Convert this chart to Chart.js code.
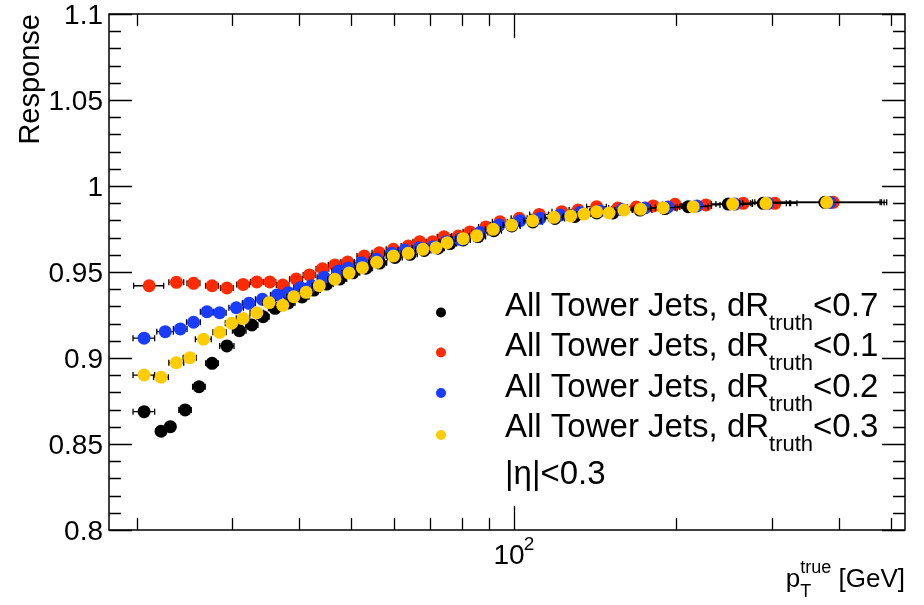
<!DOCTYPE html>
<html>
<head>
<meta charset="utf-8">
<title>Response vs pT</title>
<script src="https://cdn.jsdelivr.net/npm/chart.js@4.4.1/dist/chart.umd.min.js"></script>
<style>
  html, body { margin: 0; padding: 0; background: #fff; }
  #wrap { width: 924px; height: 605px; }
</style>
</head>
<body>
<div id="wrap"><canvas id="resp" width="924" height="605"></canvas></div>
<script>
// pT (GeV), response and half bin width, one set per dR cut
const ptDR07   = [20.65, 22.2, 23.1, 24.6, 26.1, 27.6, 29.4, 31.0, 32.7, 34.3, 36.1, 38.2, 40.5, 42.6, 45.0, 47.6, 50.3, 53.2, 56.4, 60.2, 64.2, 68.2, 72.3, 76.1, 80.5, 85.8, 91.8, 99.1, 108.4, 119.1, 129.7, 142.4, 152.5, 171.1, 190.4, 210.3, 249.4, 289.5, 376.6];
const respDR07 = [0.8688, 0.8574, 0.8601, 0.8698, 0.8833, 0.8969, 0.9070, 0.9159, 0.9192, 0.9240, 0.9289, 0.9320, 0.9355, 0.9395, 0.9430, 0.9460, 0.9495, 0.9522, 0.9552, 0.9585, 0.9603, 0.9625, 0.9638, 0.9665, 0.9686, 0.9706, 0.9740, 0.9768, 0.9791, 0.9811, 0.9823, 0.9843, 0.9843, 0.9860, 0.9869, 0.9880, 0.9895, 0.9899, 0.9905];
const errDR07  = [0.95, 0.45, 0.5, 0.65, 0.7, 0.75, 0.9, 0.9, 0.85, 0.9, 1.0, 1.1, 1.2, 1.2, 1.3, 1.4, 1.5, 1.5, 1.7, 1.9, 2.0, 2.0, 2.0, 2.2, 2.5, 2.8, 3.0, 3.6, 4.5, 5.0, 5.5, 5.5, 7, 9, 10, 14, 19, 30, 100];

const ptDR01   = [21.1, 23.7, 25.5, 27.6, 29.4, 31.5, 33.4, 35.3, 37.3, 39.5, 41.8, 44.2, 46.6, 49.2, 52.8, 56.3, 59.8, 63.7, 66.9, 70.7, 74.2, 78.9, 82.9, 88.7, 94.2, 102.3, 111.4, 122.6, 131.5, 142.3, 155.8, 168.5, 181.1, 198.7, 226.8, 265.8, 304.3, 390.2];
const respDR01 = [0.9420, 0.9440, 0.9434, 0.9420, 0.9407, 0.9428, 0.9442, 0.9442, 0.9424, 0.9459, 0.9483, 0.9519, 0.9541, 0.9558, 0.9593, 0.9612, 0.9632, 0.9651, 0.9676, 0.9676, 0.9705, 0.9709, 0.9733, 0.9762, 0.9792, 0.9812, 0.9835, 0.9851, 0.9860, 0.9880, 0.9872, 0.9878, 0.9884, 0.9894, 0.9890, 0.9899, 0.9899, 0.9905];
const errDR01  = [1.35, 0.75, 0.7, 0.75, 0.8, 0.85, 0.9, 0.9, 1.0, 1.1, 1.1, 1.2, 1.3, 1.4, 1.6, 1.7, 1.8, 1.9, 1.9, 2.0, 2.1, 2.2, 2.4, 2.7, 3.0, 3.5, 4.5, 5.0, 5.0, 6.0, 6.0, 6.5, 8.0, 10, 14, 20, 30, 100];

const ptDR02   = [20.65, 22.6, 24.1, 25.5, 27.0, 28.5, 30.6, 32.3, 34.2, 36.4, 38.2, 40.2, 42.2, 44.5, 47.3, 49.3, 52.2, 55.7, 59.4, 62.8, 66.8, 70.9, 74.8, 79.4, 86.5, 93.9, 102.6, 111.7, 121.7, 132.5, 144.3, 158.5, 174.8, 192.8, 218.2, 256.6, 295.4, 384.8];
const respDR02 = [0.9115, 0.9153, 0.9169, 0.9208, 0.9269, 0.9263, 0.9292, 0.9318, 0.9341, 0.9366, 0.9380, 0.9409, 0.9420, 0.9469, 0.9506, 0.9523, 0.9554, 0.9574, 0.9609, 0.9628, 0.9641, 0.9647, 0.9676, 0.9690, 0.9729, 0.9773, 0.9798, 0.9812, 0.9831, 0.9846, 0.9855, 0.9863, 0.9872, 0.9878, 0.9884, 0.9895, 0.9899, 0.9904];
const errDR02  = [0.95, 0.8, 0.7, 0.75, 0.75, 0.8, 0.95, 0.9, 1.0, 1.0, 1.0, 1.1, 1.1, 1.3, 1.3, 1.4, 1.6, 1.7, 1.8, 1.8, 2.0, 2.0, 2.2, 2.5, 3.0, 3.4, 3.8, 4.2, 5.0, 5.5, 6.0, 7.0, 8.0, 10, 14, 20, 30, 100];

const ptDR03   = [20.65, 22.2, 23.7, 25.1, 26.6, 28.5, 30.0, 31.5, 33.4, 35.2, 37.3, 39.1, 41.2, 43.6, 46.6, 49.5, 52.4, 55.7, 59.8, 63.7, 67.8, 71.7, 75.2, 80.5, 85.3, 91.5, 99.0, 108.3, 118.6, 127.4, 134.8, 142.3, 150.0, 159.8, 171.6, 189.0, 214.8, 254.1, 292.9, 379.4];
const respDR03 = [0.8901, 0.8888, 0.8973, 0.9002, 0.9109, 0.9149, 0.9202, 0.9230, 0.9263, 0.9322, 0.9306, 0.9356, 0.9382, 0.9420, 0.9458, 0.9494, 0.9525, 0.9556, 0.9593, 0.9609, 0.9632, 0.9641, 0.9670, 0.9694, 0.9711, 0.9748, 0.9773, 0.9798, 0.9818, 0.9826, 0.9837, 0.9851, 0.9843, 0.9860, 0.9865, 0.9874, 0.9880, 0.9895, 0.9899, 0.9905];
const errDR03  = [0.95, 0.7, 0.75, 0.7, 0.9, 0.8, 0.8, 0.9, 0.95, 0.95, 1.0, 1.1, 1.1, 1.3, 1.4, 1.4, 1.5, 1.7, 1.8, 1.8, 2.0, 2.0, 2.2, 2.5, 2.7, 3.0, 3.5, 4.0, 4.5, 4.0, 4.0, 4.0, 5.0, 6.0, 8.0, 10, 14, 22, 31, 100];

// legend entries (main text, subscript, cut)
const legendMain = 'All Tower Jets, dR';
const legendSub = 'truth';
const legendCuts = ['<0.7', '<0.1', '<0.2', '<0.3'];
const etaLabel = '|\u03b7|<0.3';

// axis ranges and tick labels
const xRange = [17.78, 530];
const yRange = [0.8, 1.1];
const xTicks = [20, 30, 40, 50, 60, 70, 80, 90, 100, 200, 300, 400, 500];
const xMajor = [100];
const yTicks = [0.8, 0.85, 0.9, 0.95, 1.0, 1.05, 1.1];
const yTickLabels = ['0.8', '0.85', '0.9', '0.95', '1', '1.05', '1.1'];

const colors = ['#000000', '#ff2a00', '#1a3cff', '#ffcc00'];
const FONT = '"Liberation Sans", Arial, Helvetica, sans-serif';

function makePoints(xs, ys, es) {
    return xs.map((x, i) => ({ x: x, y: ys[i], ex: es[i] }));
}

// horizontal error bars with end caps, drawn just before each set of markers
const errorBars = {
    id: 'errorBars',
    beforeDatasetDraw(chart, args) {
        const ds = chart.data.datasets[args.index];
        const { ctx, scales: { x, y } } = chart;
        ctx.save();
        ctx.strokeStyle = '#000';
        ctx.lineWidth = 1.3;
        ctx.beginPath();
        ds.data.forEach(p => {
            const py = y.getPixelForValue(p.y);
            const x0 = x.getPixelForValue(p.x - p.ex);
            const x1 = x.getPixelForValue(p.x + p.ex);
            ctx.moveTo(x0, py); ctx.lineTo(x1, py);
            ctx.moveTo(x0, py - 3); ctx.lineTo(x0, py + 3);
            ctx.moveTo(x1, py - 3); ctx.lineTo(x1, py + 3);
        });
        ctx.stroke();
        ctx.restore();
    }
};

// frame, inward ticks on all four sides
const frameAxes = {
    id: 'frameAxes',
    beforeDatasetsDraw(chart) {
        const { ctx, chartArea: a, scales: { x, y } } = chart;
        ctx.save();
        ctx.strokeStyle = '#000';
        ctx.lineWidth = 1.5;
        ctx.strokeRect(a.left, a.top, a.right - a.left, a.bottom - a.top);

        ctx.lineWidth = 1.3;
        ctx.beginPath();
        // y: 5 subdivisions between labelled ticks
        for (let i = 0; i < yTicks.length; i++) {
            for (let k = 0; k < 5; k++) {
                if (i === yTicks.length - 1 && k > 0) break;
                const v = yTicks[i] + k * 0.01;
                const py = Math.round(y.getPixelForValue(v)) + 0.5;
                const len = k === 0 ? 23 : 12;
                ctx.moveTo(a.left, py); ctx.lineTo(a.left + len, py);
                ctx.moveTo(a.right, py); ctx.lineTo(a.right - len, py);
            }
        }
        xTicks.forEach(v => {
            const px = Math.round(x.getPixelForValue(v)) + 0.5;
            const len = xMajor.includes(v) ? 24 : 12;
            ctx.moveTo(px, a.bottom); ctx.lineTo(px, a.bottom - len);
            ctx.moveTo(px, a.top); ctx.lineTo(px, a.top + len);
        });
        ctx.stroke();
        ctx.restore();
    },
    afterDraw(chart) {
        const { ctx, chartArea: a, scales: { x, y } } = chart;
        ctx.save();
        ctx.fillStyle = '#000';

        // y tick labels
        ctx.font = '28px ' + FONT;
        ctx.textAlign = 'right';
        ctx.textBaseline = 'alphabetic';
        yTicks.forEach((v, i) => {
            ctx.fillText(yTickLabels[i], a.left - 6, y.getPixelForValue(v) + 10);
        });

        // 10^2 under the decade tick
        const p100 = x.getPixelForValue(100);
        ctx.textAlign = 'center';
        ctx.font = '28px ' + FONT;
        ctx.fillText('10', p100 - 5, a.bottom + 34);
        ctx.font = '19px ' + FONT;
        ctx.fillText('2', p100 + 15, a.bottom + 20);

        // y title
        ctx.save();
        ctx.translate(39, a.top);
        ctx.rotate(-Math.PI / 2);
        ctx.textAlign = 'right';
        ctx.font = '29px ' + FONT;
        ctx.fillText('Response', 0, 0);
        ctx.restore();

        // x title: p_T^true [GeV], right aligned on the frame
        ctx.textAlign = 'right';
        ctx.font = '26px ' + FONT;
        ctx.fillText('[GeV]', a.right, a.bottom + 57);
        const gevW = ctx.measureText('[GeV] ').width;
        ctx.font = '18px ' + FONT;
        const trueW = ctx.measureText('true').width;
        ctx.fillText('true', a.right - gevW, a.bottom + 43);
        ctx.textAlign = 'left';
        ctx.fillText('T', a.right - gevW - trueW, a.bottom + 67);
        ctx.textAlign = 'right';
        ctx.font = '26px ' + FONT;
        ctx.fillText('p', a.right - gevW - trueW, a.bottom + 57);

        // legend
        const rows = [316, 356, 397, 437];
        const dotY = [312.5, 352.5, 393, 435];
        rows.forEach((by, i) => {
            ctx.fillStyle = colors[i];
            ctx.beginPath();
            ctx.arc(441, dotY[i], 5, 0, Math.PI * 2);
            ctx.fill();
            ctx.fillStyle = '#000';
            ctx.textAlign = 'left';
            ctx.font = '33px ' + FONT;
            ctx.fillText(legendMain, 505, by);
            let w = ctx.measureText(legendMain).width;
            ctx.font = '22px ' + FONT;
            ctx.fillText(legendSub, 505 + w, by + 14);
            w += ctx.measureText(legendSub).width;
            ctx.font = '33px ' + FONT;
            ctx.fillText(legendCuts[i], 505 + w, by);
        });
        ctx.font = '33px ' + FONT;
        ctx.fillText(etaLabel, 505, 484);
        ctx.restore();
    }
};

const seriesData = [
    makePoints(ptDR07, respDR07, errDR07),
    makePoints(ptDR01, respDR01, errDR01),
    makePoints(ptDR02, respDR02, errDR02),
    makePoints(ptDR03, respDR03, errDR03)
];

new Chart(document.getElementById('resp'), {
    type: 'scatter',
    data: {
        datasets: seriesData.map((d, i) => ({
            label: legendMain + legendSub + legendCuts[i],
            data: d,
            backgroundColor: colors[i],
            borderWidth: 0,
            pointRadius: 6.5,
            pointHoverRadius: 6.5,
            order: 3 - i
        }))
    },
    options: {
        responsive: false,
        animation: false,
        devicePixelRatio: 1,
        layout: { padding: { left: 109, top: 14, right: 19, bottom: 75 } },
        plugins: { legend: { display: false }, tooltip: { enabled: false } },
        scales: {
            x: { type: 'logarithmic', min: xRange[0], max: xRange[1], display: false },
            y: { type: 'linear', min: yRange[0], max: yRange[1], display: false }
        }
    },
    plugins: [errorBars, frameAxes]
});
</script>
</body>
</html>
